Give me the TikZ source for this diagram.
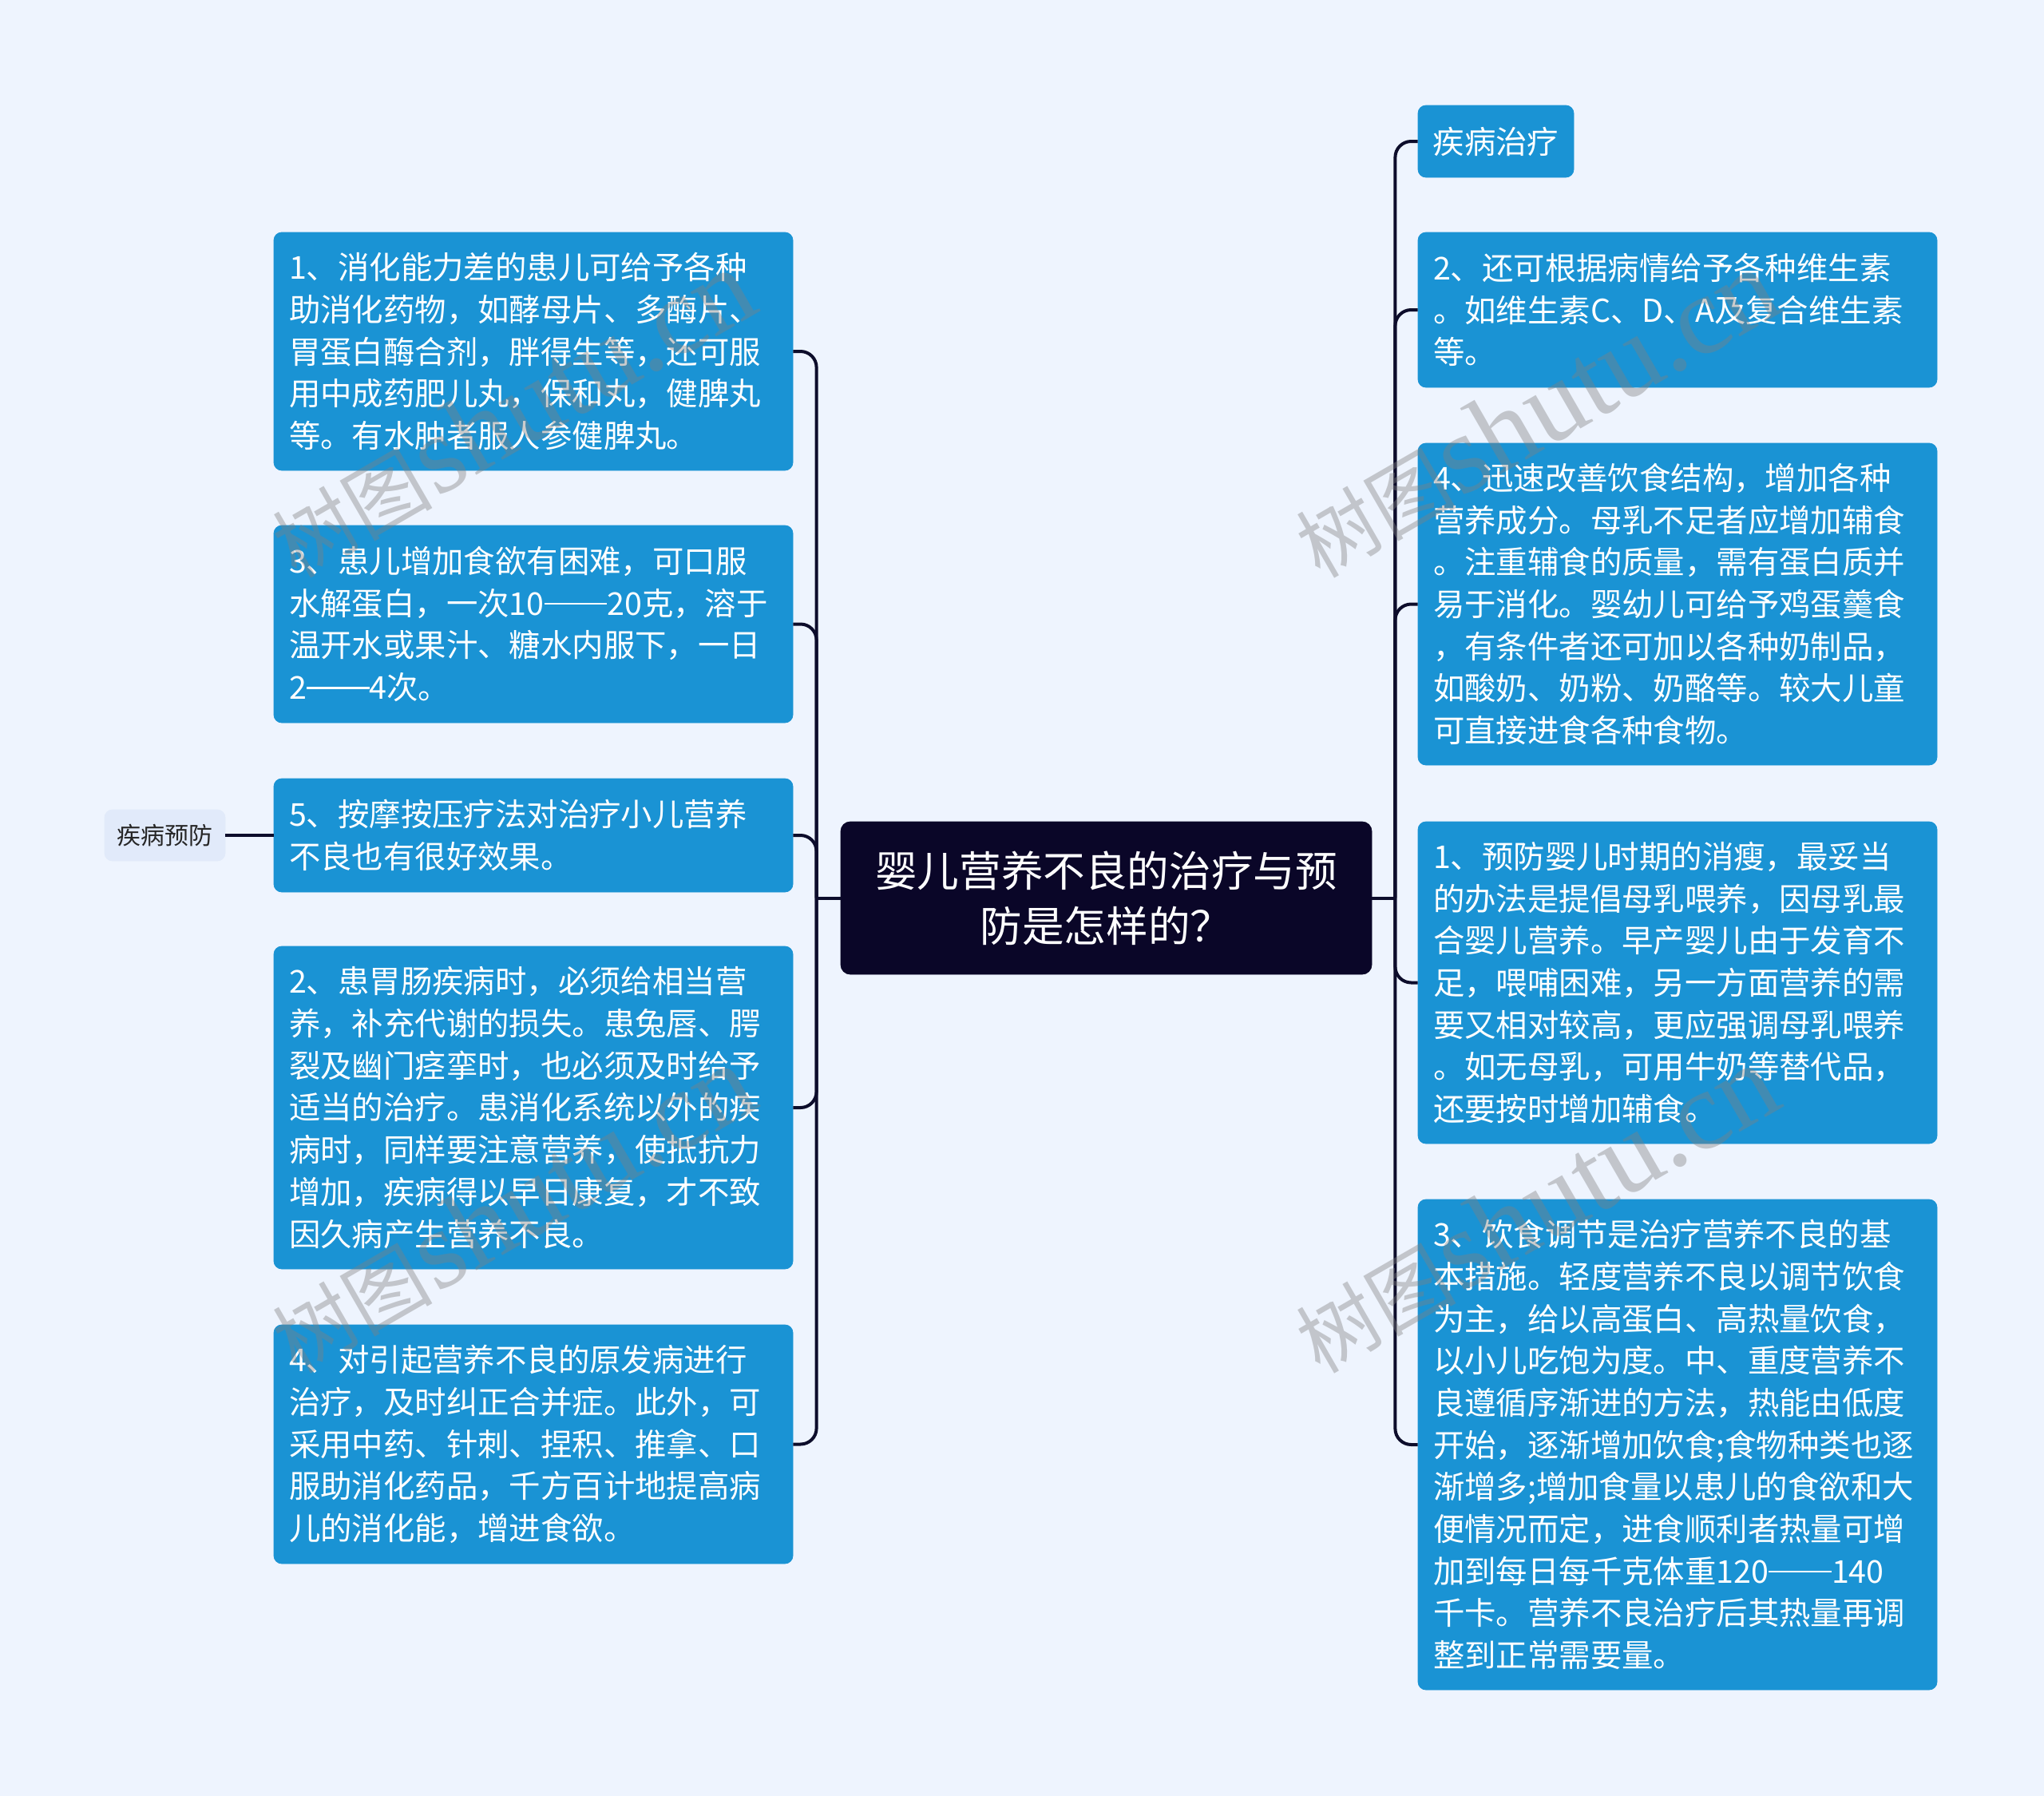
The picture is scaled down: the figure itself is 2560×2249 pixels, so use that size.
\documentclass[tikz,border=0pt]{standalone}
\usepackage{fontspec}
\setmainfont{Noto Sans CJK SC}
\newfontfamily\wmserif{Liberation Serif}
\newfontfamily\wmcjk{Noto Sans CJK SC}
\definecolor{bgc}{HTML}{EEF4FE}
\definecolor{boxblue}{HTML}{1A93D4}
\definecolor{navy}{HTML}{0A0628}
\definecolor{linec}{HTML}{0D0D2B}
\definecolor{tagfill}{HTML}{E1EAFA}
\newcommand\dbldash{\makebox[2em][c]{\rule[0.33em]{2em}{0.06em}}}
\begin{document}
\begin{tikzpicture}[x=0.5pt,y=-0.5pt,
  leaf/.style={fill=boxblue, draw=boxblue, rounded corners=5pt, text=white,
    text width=306pt, align=left, inner xsep=9.5pt, inner ysep=2pt,
    font=\fontsize{19.7pt}{26.35pt}\selectfont},
  hub/.style={fill=navy, draw=navy, rounded corners=6pt, text=white,
    align=center, minimum width=332.5pt, minimum height=95.5pt, inner sep=0pt,
    font=\fontsize{26.3pt}{34.3pt}\selectfont},
  tag/.style={fill=tagfill, draw=tagfill, rounded corners=5pt, text=black!85,
    minimum width=75.5pt, minimum height=32pt, inner sep=0pt,
    font=\fontsize{15pt}{18pt}\selectfont},
  headbox/.style={fill=boxblue, draw=boxblue, rounded corners=5pt, text=white,
    minimum width=97.5pt, minimum height=45pt, inner sep=0pt,
    font=\fontsize{19.7pt}{24pt}\selectfont},
  conn/.style={draw=linec, line width=2pt, rounded corners=10pt},
  wm/.style={text=black!50, text opacity=0.4, inner sep=0pt}
]
\useasboundingbox (0,0) rectangle (2560,2249);
\fill[bgc] (0,0) rectangle (2560,2249);

% central node
\node[hub] (C) at (1385.5,1124.5) {婴儿营养不良的治疗与预\\防是怎样的？};

% left side
\node[leaf, minimum height=149pt] (L1) at (668,440) {1、消化能力差的患儿可给予各种\\助消化药物，如酵母片、多酶片、\\胃蛋白酶合剂，胖得生等，还可服\\用中成药肥儿丸，保和丸，健脾丸\\等。有水肿者服人参健脾丸。};
\node[leaf, minimum height=123.5pt] (L2) at (668,781.5) {3、患儿增加食欲有困难，可口服\\水解蛋白，一次10\dbldash20克，溶于\\温开水或果汁、糖水内服下，一日\\2\dbldash4次。};
\node[leaf, minimum height=71pt] (L3) at (668,1046) {5、按摩按压疗法对治疗小儿营养\\不良也有很好效果。};
\node[leaf, minimum height=202pt] (L4) at (668,1387) {2、患胃肠疾病时，必须给相当营\\养，补充代谢的损失。患兔唇、腭\\裂及幽门痉挛时，也必须及时给予\\适当的治疗。患消化系统以外的疾\\病时，同样要注意营养，使抵抗力\\增加，疾病得以早日康复，才不致\\因久病产生营养不良。};
\node[leaf, minimum height=149.5pt] (L5) at (668,1808.5) {4、对引起营养不良的原发病进行\\治疗，及时纠正合并症。此外，可\\采用中药、针刺、捏积、推拿、口\\服助消化药品，千方百计地提高病\\儿的消化能，增进食欲。};
\node[tag] (P) at (206.5,1046) {疾病预防};

% right side
\node[headbox] (R0) at (1873.5,177) {疾病治疗};
\node[leaf, minimum height=97pt] (R1) at (2101,388) {2、还可根据病情给予各种维生素\\。如维生素C、D、A及复合维生素\\等。};
\node[leaf, minimum height=201.5pt] (R2) at (2101,756.5) {4、迅速改善饮食结构，增加各种\\营养成分。母乳不足者应增加辅食\\。注重辅食的质量，需有蛋白质并\\易于消化。婴幼儿可给予鸡蛋羹食\\，有条件者还可加以各种奶制品，\\如酸奶、奶粉、奶酪等。较大儿童\\可直接进食各种食物。};
\node[leaf, minimum height=201.5pt] (R3) at (2101,1230.5) {1、预防婴儿时期的消瘦，最妥当\\的办法是提倡母乳喂养，因母乳最\\合婴儿营养。早产婴儿由于发育不\\足，喂哺困难，另一方面营养的需\\要又相对较高，更应强调母乳喂养\\。如无母乳，可用牛奶等替代品，\\还要按时增加辅食。};
\node[leaf, minimum height=307pt] (R4) at (2101,1809) {3、饮食调节是治疗营养不良的基\\本措施。轻度营养不良以调节饮食\\为主，给以高蛋白、高热量饮食，\\以小儿吃饱为度。中、重度营养不\\良遵循序渐进的方法，热能由低度\\开始，逐渐增加饮食;食物种类也逐\\渐增多;增加食量以患儿的食欲和大\\便情况而定，进食顺利者热量可增\\加到每日每千克体重120\dbldash140\\千卡。营养不良治疗后其热量再调\\整到正常需要量。};

% connectors
\draw[conn] (C.west) -- ++(-30,0) coordinate (LJ);
\foreach \n in {L1,L2,L3,L4,L5} \draw[conn] (LJ) |- (\n.east);
\draw[conn] (C.east) -- ++(29,0) coordinate (RJ);
\foreach \n in {R0,R1,R2,R3,R4} \draw[conn] (RJ) |- (\n.west);
\draw[conn] (P.east) -- (L3.west);

% watermarks
\foreach \p/\nm in {{(641,518)}/W1,{(641,1514)}/W2,{(1923,518)}/W3,{(1923,1514)}/W4}
  \node[wm, rotate=30] (\nm) at \p {{\wmcjk\fontsize{50pt}{50pt}\selectfont 树图}\,{\wmserif\fontsize{70pt}{70pt}\selectfont shutu.cn}};
\end{tikzpicture}
\end{document}
